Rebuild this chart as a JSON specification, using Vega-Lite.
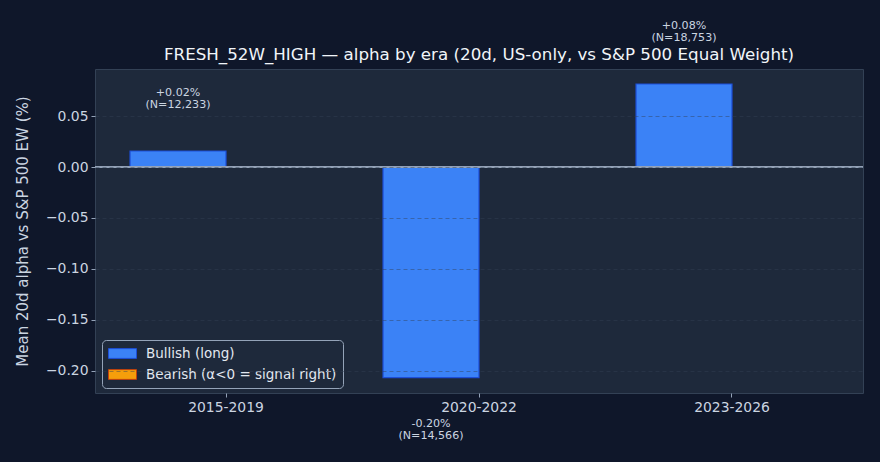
{
  "$schema": "https://vega.github.io/schema/vega-lite/v6.json",
  "autosize": "none",
  "width": 768,
  "height": 324,
  "padding": {"left": 95, "top": 69, "right": 17, "bottom": 69},
  "background": "#0f172a",
  "config": {
    "font": "DejaVu Sans",
    "view": {"fill": "#1e293b", "stroke": "#334155", "strokeWidth": 1},
    "axis": {"labelFont": "DejaVu Sans", "titleFont": "DejaVu Sans", "labelColor": "#cbd5e1", "titleColor": "#cbd5e1", "tickColor": "#94a3b8", "domain": false}
  },
  "title": {
    "text": "FRESH_52W_HIGH — alpha by era (20d, US-only, vs S&P 500 Equal Weight)",
    "color": "#f1f5f9",
    "fontSize": 16.7,
    "fontWeight": "normal",
    "font": "DejaVu Sans",
    "anchor": "middle",
    "frame": "group",
    "offset": 8,
    "dy": 52
  },
  "data": {
    "values": [
      {"era": "2015-2019", "series": "Bullish (long)", "alpha": 0.0157, "label": "+0.02%\n(N=12,233)"},
      {"era": "2015-2019", "series": "Bearish (α<0 = signal right)", "alpha": 0, "label": ""},
      {"era": "2020-2022", "series": "Bullish (long)", "alpha": -0.2066, "label": "-0.20%\n(N=14,566)"},
      {"era": "2020-2022", "series": "Bearish (α<0 = signal right)", "alpha": 0, "label": ""},
      {"era": "2023-2026", "series": "Bullish (long)", "alpha": 0.0814, "label": "+0.08%\n(N=18,753)"},
      {"era": "2023-2026", "series": "Bearish (α<0 = signal right)", "alpha": 0, "label": ""}
    ]
  },
  "encoding": {
    "x": {
      "field": "era", "type": "nominal", "sort": ["2015-2019", "2020-2022", "2023-2026"],
      "scale": {"paddingInner": 0, "paddingOuter": 0.0178},
      "axis": {"title": null, "labelAngle": 0, "labelFontSize": 13.9, "tickSize": 4, "labelPadding": 3, "grid": false}
    },
    "xOffset": {
      "field": "series", "type": "nominal",
      "scale": {"domain": ["Bullish (long)", "Bearish (α<0 = signal right)"], "paddingInner": 0, "paddingOuter": 0.318}
    },
    "y": {
      "field": "alpha", "type": "quantitative",
      "scale": {"domain": [-0.2216, 0.0961], "nice": false, "zero": false},
      "axis": {
        "title": "Mean 20d alpha vs S&P 500 EW (%)",
        "titleFontSize": 15,
        "titleFontWeight": "normal",
        "titleX": -73,
        "titleY": 162,
        "titleBaseline": "middle",
        "titleAlign": "center",
        "values": [-0.2, -0.15, -0.1, -0.05, 0, 0.05],
        "format": ".2f",
        "labelFontSize": 13.9,
        "tickSize": 4,
        "labelPadding": 3,
        "grid": true,
        "gridColor": "#334155",
        "gridOpacity": 0.45,
        "gridDash": [4, 3],
        "zindex": 1
      }
    }
  },
  "layer": [
    {
      "mark": {"type": "bar", "strokeWidth": 1.2},
      "encoding": {
        "y2": {"datum": 0},
        "fill": {
          "field": "series", "type": "nominal",
          "scale": {"domain": ["Bullish (long)", "Bearish (α<0 = signal right)"], "range": ["#3b82f6", "#f59e0b"]},
          "legend": {
            "title": null,
            "orient": "none",
            "legendX": 7,
            "legendY": 271,
            "fillColor": "#1e293b",
            "strokeColor": "#94a3b8",
            "cornerRadius": 4,
            "padding": 6,
            "labelColor": "#e2e8f0",
            "labelFontSize": 13.5,
            "labelFont": "DejaVu Sans",
            "labelLimit": 0,
            "symbolType": "M-2,-0.7L2,-0.7L2,0.7L-2,0.7Z",
            "symbolSize": 196,
            "symbolOffset": 7,
            "symbolStrokeWidth": 1,
            "rowPadding": 6,
            "labelOffset": 16
          }
        },
        "stroke": {
          "field": "series", "type": "nominal",
          "scale": {"domain": ["Bullish (long)", "Bearish (α<0 = signal right)"], "range": ["#1d4ed8", "#c2410c"]},
          "legend": null
        }
      }
    },
    {
      "mark": {"type": "rule", "color": "#94a3b8", "strokeWidth": 1},
      "encoding": {"y": {"datum": 0}, "x": null, "xOffset": null}
    },
    {
      "transform": [{"filter": "datum.alpha > 0 && datum.label != ''"}],
      "mark": {"type": "text", "baseline": "bottom", "dy": -53, "fontSize": 11.1, "color": "#cbd5e1", "lineBreak": "\n", "lineHeight": 12.5},
      "encoding": {"text": {"field": "label"}}
    },
    {
      "transform": [{"filter": "datum.alpha < 0 && datum.label != ''"}],
      "mark": {"type": "text", "baseline": "top", "dy": 40, "fontSize": 11.1, "color": "#cbd5e1", "lineBreak": "\n", "lineHeight": 12.5},
      "encoding": {"text": {"field": "label"}}
    }
  ]
}
